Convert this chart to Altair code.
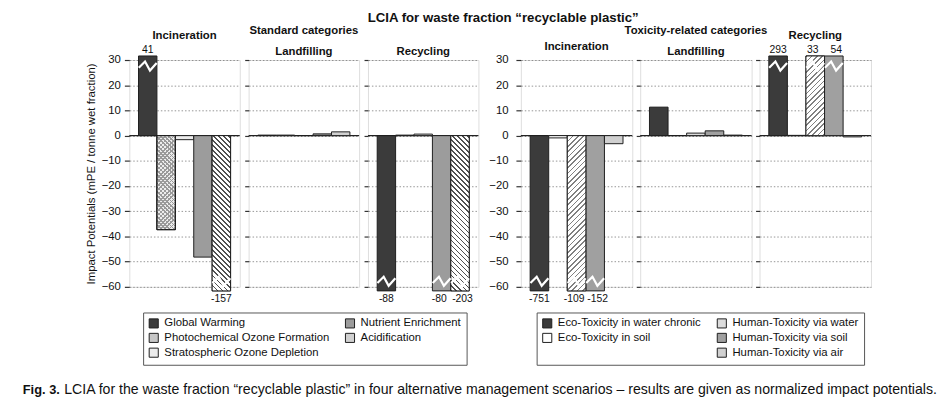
import math
import altair as alt
import pandas as pd

FONT = "Liberation Sans, Arial, Helvetica, sans-serif"

# ---------------- data ----------------
scenarios = ["Incineration", "Landfilling", "Recycling"]

std_cats = ["Global Warming", "Photochemical Ozone Formation", "Stratospheric Ozone Depletion",
            "Nutrient Enrichment", "Acidification"]
std_incineration = [41, -37.3, -1.6, -48.2, -157]
std_landfilling = [0.2, 0.2, 0.05, 0.7, 1.5]
std_recycling = [-88, 0.2, 0.6, -80, -203]

tox_cats = ["Eco-Toxicity in water chronic", "Eco-Toxicity in soil", "Human-Toxicity via water",
            "Human-Toxicity via soil", "Human-Toxicity via air"]
tox_incineration = [-751, -0.9, -109, -152, -3.2]
tox_landfilling = [11.3, 0.05, 1.0, 1.9, 0.2]
tox_recycling = [293, 0.1, 33, 54, -0.5]

std_colors = ["#3b3b3b", "#c6c6c6", "#ececec", "#9c9c9c", "#d0d0d0"]
tox_colors = ["#3b3b3b", "#ffffff", "#dcdcdc", "#a0a0a0", "#d0d0d0"]
# hatch styles per category: None, "\\", "/", or "x"
std_hatch = [None, "x", None, None, "\\"]
tox_hatch = [None, None, "/", None, "\\"]

# legend orders (filled column by column, 2 columns x 3 rows)
std_legend = [std_cats[0], std_cats[1], std_cats[2], std_cats[3], std_cats[4]]
tox_legend = [tox_cats[0], tox_cats[1], " ", tox_cats[2], tox_cats[3], tox_cats[4]]

y_ticks = [-60, -50, -40, -30, -20, -10, 0, 10, 20, 30]
main_title = "LCIA for waste fraction \u201crecyclable plastic\u201d"
group_titles = ["Standard categories", "Toxicity-related categories"]
y_title = "Impact Potentials (mPE / tonne wet fraction)"
caption_bold = "Fig. 3."
caption_text = ("LCIA for the waste fraction \u201crecyclable plastic\u201d in four alternative management "
                "scenarios \u2013 results are given as normalized impact potentials.")

PLOT_H = 230
Y_LO, Y_HI = -60, 30
CAP_HI, CAP_LO = 31.6, -61.6
BRK_HI, BRK_LO = 27.6, -57.8
ZIGZAG = "M -1 0.2 L -0.3 -0.5 L 0.25 0.5 L 1 -0.35"
NBSP = "\u00a0"


def hatch_gradient(w, h, direction, period, frac, line, bg):
    """Diagonal stripes built from a bounding-box linear gradient of a w x h bar."""
    c = (w + h) / (w * w + h * h)
    if direction == "\\":
        x1, y1, x2, y2 = 0, 1, c * w, 1 - c * h
    else:
        x1, y1, x2, y2 = 0, 0, c * w, c * h
    n_per = (w + h) / (math.sqrt(2) * period)
    stops = []
    k = 0
    while k / n_per < 1:
        a = k / n_per
        b = min((k + frac) / n_per, 1)
        e = min((k + 1) / n_per, 1)
        stops += [{"offset": a, "color": line}, {"offset": b, "color": line},
                  {"offset": b, "color": bg}, {"offset": e, "color": bg}]
        k += 1
    return {"gradient": "linear", "x1": x1, "y1": y1, "x2": x2, "y2": y2, "stops": stops}


def make_panel(cats, values, idx, group_title, legend_order, colors, hatches, right_group,
               width, legend_xy, legend_pad):
    first = idx == 0
    bar_w = width / (len(cats) + 1)
    df = pd.DataFrame({"cat": cats, "value": values})
    df["shown"] = df["value"].clip(CAP_LO, CAP_HI)
    df["zero"] = 0.0
    df["lbl"] = df["value"].map(lambda v: f"{v:g}")
    df["brk"] = df["value"].map(lambda v: BRK_HI if v > 30 else (BRK_LO if v < -60 else None))
    # label position inside the band, spreading neighbouring labels a little
    side = [1 if v > 30 else (-1 if v < -60 else 0) for v in values]
    nudge = [bar_w / 2] * len(values)
    for i in range(len(values) - 1):
        if side[i] != 0 and side[i] == side[i + 1]:
            nudge[i] -= 2.5
            nudge[i + 1] += 2.5
    df["nudge"] = nudge

    fill_range, stroke_range = [], []
    for c in legend_order:
        if c.strip() == "":
            fill_range.append("transparent")
            stroke_range.append("transparent")
        else:
            fill_range.append(colors[cats.index(c)])
            stroke_range.append("#1e1e1e")

    ytitle = y_title if (first and not right_group) else None
    if first:
        axis = alt.Axis(values=y_ticks, title=ytitle, grid=True,
                        gridDash=[1.5, 2], gridColor="#7a7a7a", gridWidth=0.8,
                        domain=False, tickSize=5, tickColor="#333", tickWidth=1.2,
                        labelFont=FONT, labelFontSize=11.5, labelColor="#111",
                        labelPadding=8 if right_group else 4,
                        titleFont=FONT, titleFontSize=11.5, titleFontWeight="normal",
                        titleColor="#111", titlePadding=5)
    else:
        axis = alt.Axis(values=y_ticks, title=None, grid=True, labels=False,
                        gridDash=[1.5, 2], gridColor="#7a7a7a", gridWidth=0.8,
                        domain=False, tickSize=4, tickColor="#333", tickWidth=1.2)

    yscale = alt.Scale(domain=[Y_LO, Y_HI], nice=False, zero=False)
    xenc = alt.X("cat:N", sort=cats, axis=None,
                 scale=alt.Scale(domain=cats, paddingInner=0, paddingOuter=0.5))

    def yenc(field):
        return alt.Y(field, type="quantitative", scale=yscale, axis=axis, title=ytitle)

    # second-column labels get trailing no-break blanks so the box reaches the reference width
    second_col = legend_order[(len(legend_order) + 1) // 2:]
    label_expr = ("indexof(" + str(second_col) + ", datum.label) >= 0 ? datum.label + '"
                  + NBSP * legend_pad + "' : datum.label")
    legend = alt.Legend(title=None, orient="none", legendX=legend_xy[0], legendY=legend_xy[1],
                        columns=2, symbolType="square", symbolSize=85, symbolStrokeWidth=1,
                        labelFont=FONT, labelFontSize=11.5, labelColor="#111", labelLimit=400,
                        strokeColor="#555", padding=5, rowPadding=1, columnPadding=14,
                        labelOffset=5, labelExpr=label_expr)

    base = alt.Chart(df)
    layers = []
    layers.append(alt.Chart(pd.DataFrame({"z": [0.0]})).mark_rule(color="#222", strokeWidth=1.2)
                  .encode(y=yenc("z")))
    layers.append(base.mark_bar(strokeWidth=1).encode(
        x=xenc, y=yenc("shown"), y2="zero:Q",
        fill=alt.Fill("cat:N", scale=alt.Scale(domain=legend_order, range=fill_range), legend=legend),
        stroke=alt.Stroke("cat:N", scale=alt.Scale(domain=legend_order, range=stroke_range),
                          legend=legend),
    ))

    # hatch overlays on the tall bars
    for i, (c, v) in enumerate(zip(cats, values)):
        hs = hatches[i]
        shown = max(min(v, CAP_HI), CAP_LO)
        if hs is None or abs(shown) < 15:
            continue
        h = abs(shown) * PLOT_H / (Y_HI - Y_LO)
        if hs == "x":
            grads = [hatch_gradient(bar_w, h, "\\", 3.0, 0.4, "#9a9a9a", "#ececec"),
                     hatch_gradient(bar_w, h, "/", 3.0, 0.4, "#9a9a9a", "rgba(0,0,0,0)")]
        elif hs == "/":
            grads = [hatch_gradient(bar_w, h, "/", 3.8, 0.3, "#808080", "#ffffff")]
        else:
            grads = [hatch_gradient(bar_w, h, "\\", 3.6, 0.33, "#505050", "#ffffff")]
        for g in grads:
            layers.append(base.transform_filter(alt.datum.cat == c).mark_bar(
                fill=g, stroke="#1e1e1e", strokeWidth=1).encode(x=xenc, y=yenc("shown"), y2="zero:Q"))

    layers.append(base.transform_filter("isValid(datum.brk)").mark_point(
        shape=ZIGZAG, filled=False, stroke="white", strokeWidth=2.2, size=330, opacity=1
    ).encode(x=xenc, y=yenc("brk")))
    layers.append(base.transform_filter("datum.value > 30").mark_text(
        baseline="bottom", dy=-1, font=FONT, fontSize=10.5, color="#111"
    ).encode(x=xenc, y=yenc("shown"), text="lbl:N", xOffset=alt.XOffset("nudge:Q", scale=None)))
    layers.append(base.transform_filter("datum.value < -60").mark_text(
        baseline="top", dy=3, font=FONT, fontSize=10.5, color="#111"
    ).encode(x=xenc, y=yenc("shown"), text="lbl:N", xOffset=alt.XOffset("nudge:Q", scale=None)))

    if idx == 1:
        title = alt.TitleParams(group_title, subtitle=scenarios[idx], font=FONT, fontSize=11.5,
                                fontWeight="bold", color="#111", subtitleFont=FONT,
                                subtitleFontSize=11.5, subtitleFontWeight="bold",
                                subtitleColor="#111", subtitlePadding=10, offset=2, anchor="middle")
    else:
        has_top_labels = any(v > 30 for v in values)
        title = alt.TitleParams(scenarios[idx], font=FONT, fontSize=11.5, fontWeight="bold",
                                color="#111", offset=4 if has_top_labels else 2, anchor="middle")

    return alt.layer(*layers).properties(width=width, height=PLOT_H, title=title)


std_vals = [std_incineration, std_landfilling, std_recycling]
tox_vals = [tox_incineration, tox_landfilling, tox_recycling]

left_panels = [make_panel(std_cats, v, i, group_titles[0], std_legend, std_colors, std_hatch,
                          False, 112, (14, 256), 9)
               for i, v in enumerate(std_vals)]
right_panels = [make_panel(tox_cats, v, i, group_titles[1], tox_legend, tox_colors, tox_hatch,
                           True, 113, (16, 256), 5)
                for i, v in enumerate(tox_vals)]

left_group = alt.hconcat(*left_panels, spacing=9, bounds="flush")
right_group = alt.hconcat(*right_panels, spacing=8, bounds="flush")

top = alt.hconcat(
    left_group, right_group, spacing=7,
    title=alt.TitleParams(main_title, font=FONT, fontSize=13.4, fontWeight="bold", color="#111",
                          offset=0, anchor="middle", dx=25),
).resolve_scale(fill="independent", stroke="independent")

cap_df = pd.DataFrame({"bold": [caption_bold], "rest": [caption_text]})
cap_base = alt.Chart(cap_df)
caption = alt.layer(
    cap_base.mark_text(align="left", baseline="alphabetic", font=FONT, fontSize=13,
                       fontWeight="bold", color="#111").encode(
        x=alt.value(-108), y=alt.value(13), text="bold:N"),
    cap_base.mark_text(align="left", baseline="alphabetic", font=FONT, fontSize=14.3,
                       color="#111").encode(
        x=alt.value(-66), y=alt.value(13), text="rest:N"),
).properties(width=700, height=16, view=alt.ViewBackground(stroke="transparent"))

chart = alt.vconcat(top, caption, spacing=15).properties(
    padding={"left": 14, "top": 0, "right": 2, "bottom": 0}
).configure_view(stroke="#5a5a5a", strokeWidth=1.5).configure(background="white")

chart.save("out.html", embed_options={"renderer": "svg", "actions": False})
